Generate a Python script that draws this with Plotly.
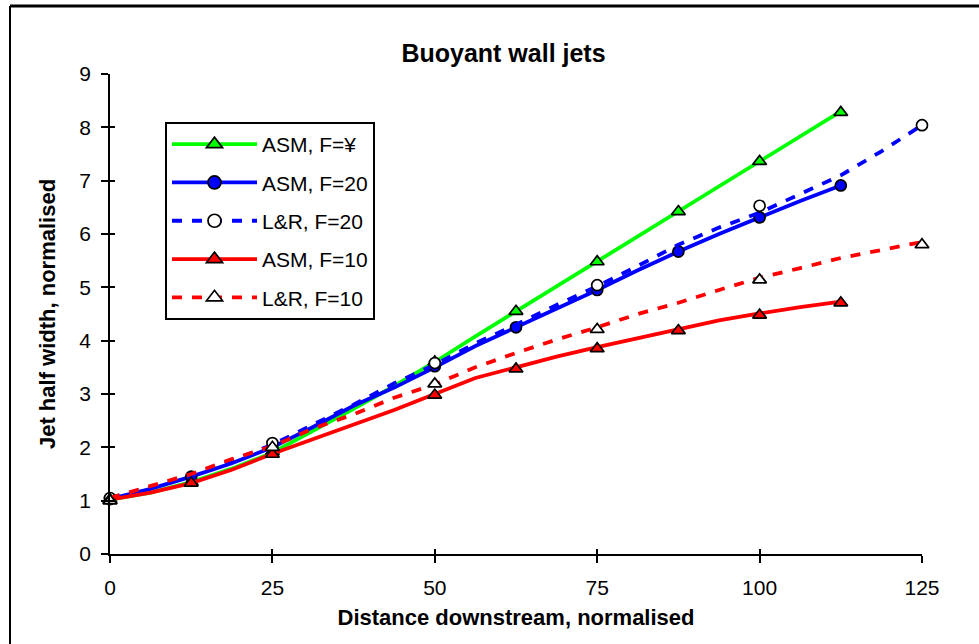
import plotly.graph_objects as go

# ---- data ----
x_asm_line = [0, 6.25, 12.5, 18.75, 25, 31.25, 37.5, 43.75, 50, 56.25, 62.5, 68.75, 75,
              81.25, 87.5, 93.75, 100, 106.25, 112.5]
x_lr_line = x_asm_line + [118.75, 125]

asm_inf_line = [1.02, 1.15, 1.35, 1.6, 1.9, 2.3, 2.72, 3.15, 3.6, 4.08, 4.55, 5.02, 5.48,
                5.95, 6.42, 6.9, 7.37, 7.84, 8.3]
asm_20_line = [1.03, 1.22, 1.45, 1.7, 2.0, 2.38, 2.78, 3.12, 3.5, 3.9, 4.25, 4.6, 4.95,
               5.32, 5.67, 6.0, 6.31, 6.62, 6.91]
lr_20_line = [1.05, 1.25, 1.47, 1.75, 2.05, 2.42, 2.8, 3.2, 3.55, 3.95, 4.3, 4.67, 5.02,
              5.4, 5.8, 6.12, 6.4, 6.75, 7.1, 7.55, 8.04]
asm_10_line = [1.02, 1.15, 1.33, 1.58, 1.88, 2.15, 2.42, 2.7, 3.0, 3.3, 3.5, 3.7, 3.88,
               4.05, 4.21, 4.38, 4.51, 4.63, 4.73]
lr_10_line = [1.05, 1.27, 1.5, 1.78, 2.02, 2.35, 2.62, 2.93, 3.18, 3.5, 3.77, 4.02, 4.25,
              4.5, 4.71, 4.95, 5.18, 5.36, 5.55, 5.7, 5.85]

x_asm_pts = [0, 12.5, 25, 50, 62.5, 75, 87.5, 100, 112.5]
x_lr_pts = [0, 25, 50, 75, 100, 125]
asm_inf_pts = [1.0, 1.35, 1.92, 3.6, 4.55, 5.48, 6.42, 7.36, 8.28]
asm_20_pts = [1.03, 1.45, 2.0, 3.52, 4.25, 4.95, 5.67, 6.31, 6.91]
lr_20_pts = [1.05, 2.08, 3.58, 5.04, 6.53, 8.04]
asm_10_pts = [1.02, 1.33, 1.87, 2.98, 3.47, 3.85, 4.19, 4.48, 4.71]
lr_10_pts = [1.0, 2.0, 3.19, 4.21, 5.14, 5.8]

series_names = ["ASM, F=¥", "ASM, F=20", "L&R, F=20", "ASM, F=10", "L&R, F=10"]
x_ticks = [0, 25, 50, 75, 100, 125]
y_ticks = [0, 1, 2, 3, 4, 5, 6, 7, 8, 9]

# ---- styles ----
GREEN, BLUE, RED = "#00FF00", "#0000FF", "#FF0000"
styles = [
    dict(color=GREEN, dash="solid", symbol="triangle-up", fill=GREEN, size=12),
    dict(color=BLUE, dash="solid", symbol="circle", fill=BLUE, size=11),
    dict(color=BLUE, dash="10px,10px", symbol="circle", fill="white", size=11),
    dict(color=RED, dash="solid", symbol="triangle-up", fill=RED, size=12),
    dict(color=RED, dash="10px,10px", symbol="triangle-up", fill="white", size=12),
]
lines = [(x_asm_line, asm_inf_line), (x_asm_line, asm_20_line), (x_lr_line, lr_20_line),
         (x_asm_line, asm_10_line), (x_lr_line, lr_10_line)]
pts = [(x_asm_pts, asm_inf_pts), (x_asm_pts, asm_20_pts), (x_lr_pts, lr_20_pts),
       (x_asm_pts, asm_10_pts), (x_lr_pts, lr_10_pts)]

fig = go.Figure()
for i, name in enumerate(series_names):
    st = styles[i]
    lx, ly = lines[i]
    px_, py_ = pts[i]
    fig.add_trace(go.Scatter(x=lx, y=ly, mode="lines", showlegend=False,
                             legendgroup=name,
                             line=dict(color=st["color"], width=3.8, dash=st["dash"]),
                             hoverinfo="skip"))
    fig.add_trace(go.Scatter(x=px_, y=py_, mode="markers", showlegend=False,
                             legendgroup=name, cliponaxis=False,
                             marker=dict(symbol=st["symbol"], size=st["size"], color=st["fill"],
                                         line=dict(color="black", width=1.7))))
    # legend entry
    fig.add_trace(go.Scatter(x=[None], y=[None], mode="lines+markers", name=name,
                             legendgroup=name,
                             line=dict(color=st["color"], width=3.8, dash=st["dash"]),
                             marker=dict(symbol=st["symbol"], size=st["size"] + 2, color=st["fill"],
                                         line=dict(color="black", width=1.7))))

# overlay axes for the inner half of the "cross" tick marks
fig.add_trace(go.Scatter(x=[None], y=[None], xaxis="x2", yaxis="y2", showlegend=False,
                         hoverinfo="skip"))

FONT = "Liberation Sans, Arial, sans-serif"
L, R, T, B = 110, 57, 74, 90

axis_common = dict(showgrid=False, zeroline=False, showline=True, linecolor="black",
                   linewidth=1.5, ticks="outside", ticklen=7, tickwidth=1.5,
                   tickcolor="black", tickfont=dict(family=FONT, size=21, color="black"))

fig.update_layout(
    width=979, height=644,
    margin=dict(l=L, r=R, t=T, b=B),
    paper_bgcolor="white", plot_bgcolor="white",
    font=dict(family=FONT, color="black"),
    title=dict(text="<b>Buoyant wall jets</b>", x=503.5 / 979, xref="container",
               xanchor="center", y=1 - 53 / 644, yanchor="middle",
               font=dict(family=FONT, size=25, color="black")),
    xaxis=dict(range=[0, 125], tickvals=x_ticks, ticklabelstandoff=7,
               title=dict(text="<b>Distance downstream, normalised</b>", standoff=12,
                          font=dict(family=FONT, size=22, color="black")),
               **axis_common),
    yaxis=dict(range=[0, 9], tickvals=y_ticks, ticklabelstandoff=6,
               title=dict(text="<b>Jet half width, normalised</b>", standoff=18,
                          font=dict(family=FONT, size=22, color="black")),
               **axis_common),
    xaxis2=dict(range=[0, 125], tickvals=x_ticks, overlaying="x", anchor="y2",
                showticklabels=False, ticks="inside", ticklen=5, tickwidth=1.5,
                tickcolor="black", showgrid=False, zeroline=False, showline=False),
    yaxis2=dict(range=[0, 9], tickvals=y_ticks, overlaying="y", anchor="x2",
                showticklabels=False, ticks="inside", ticklen=5, tickwidth=1.5,
                tickcolor="black", showgrid=False, zeroline=False, showline=False),
    legend=dict(x=(165 - L) / 812, y=(554 - 122) / 480, xanchor="left", yanchor="top",
                bgcolor="white", bordercolor="black", borderwidth=2,
                font=dict(family=FONT, size=21, color="black"),
                traceorder="grouped", tracegroupgap=8, itemwidth=85),
    showlegend=True,
)

# outer frame (left and top edges visible)
fx0 = (10 - L) / 812
fy1 = (554 - 6) / 480
fig.add_shape(type="line", xref="paper", yref="paper", x0=fx0, x1=fx0, y0=-0.3, y1=fy1,
              line=dict(color="black", width=2))
fig.add_shape(type="line", xref="paper", yref="paper", x0=fx0, x1=1.2, y0=fy1, y1=fy1,
              line=dict(color="black", width=3))

fig.write_html("out.html")
